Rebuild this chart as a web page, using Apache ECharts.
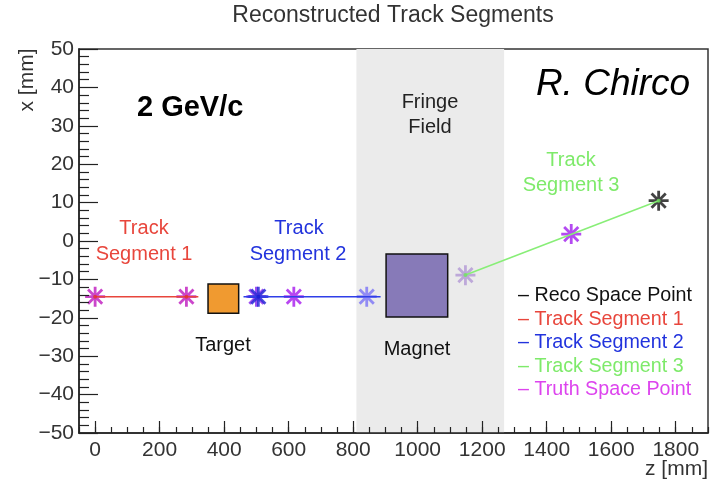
<!DOCTYPE html>
<html><head><meta charset="utf-8">
<script src="https://cdn.jsdelivr.net/npm/echarts@6/dist/echarts.min.js"></script>
<style>html,body{margin:0;padding:0;background:#fff}#c{width:718px;height:483px}</style>
</head><body><div id="c"></div>
<script>
// ---- data ----
const zTicks = [0, 200, 400, 600, 800, 1000, 1200, 1400, 1600, 1800];
const truthZ = [0, 283, 500, 616, 842, 1148, 1476];
const truthX = [-14.5, -14.5, -14.5, -14.5, -14.5, -8.9, 1.8];
const recoZ = [506, 1747];
const recoX = [-14.5, 10.5];
const seg1Z = [0, 320], seg1X = [-14.5, -14.5];
const seg2Z = [460, 885], seg2X = [-14.5, -14.5];
const seg3Z = [1148, 1747], seg3X = [-8.85, 10.5];
const seg1HitZ = [0, 283], seg1HitX = [-14.5, -14.5];
const seg2HitZ = [506], seg2HitX = [-14.5];
const seg3HitZ = [1148, 1747], seg3HitX = [-8.85, 10.5];
const fringeZ = [810, 1268];
const targetZ = [350, 445], targetX = [-18.8, -11.2];
const magnetZ = [902, 1093], magnetX = [-19.8, -3.4];

// ---- styles ----
const truthColors = ['#c83cc8', '#c83cc8', '#9a48f0', '#b43cf0', '#8c86f4', '#baa4d8', '#b040f0'];
const recoColors = ['#2a2ad6', '#222222'];
const FONT = "'Liberation Sans', Arial, Helvetica, sans-serif";
const STAR = 'path://M-50,-7L50,-7L50,7L-50,7Z M-7,-50L7,-50L7,50L-7,50Z M-40.35,-30.45L-30.45,-40.35L40.35,30.45L30.45,40.35Z M-30.45,40.35L-40.35,30.45L30.45,-40.35L40.35,-30.45Z';
const zip = (a, b) => a.map((v, i) => [v, b[i]]);
const fmt = v => String(v).replace('-', '\u2212');

const chart = echarts.init(document.getElementById('c'), null, {renderer: 'canvas'});

function txt(text, x, y, size, color, extra) {
  return Object.assign({
    type: 'text', x: x, y: y, z: 100,
    style: Object.assign({
      text: text, fill: color, font: size + 'px ' + FONT,
      align: 'center', verticalAlign: 'middle',
      textAlign: 'center', textVerticalAlign: 'middle'
    }, (extra && extra.style) || {})
  }, (extra && extra.el) || {});
}

const legendItems = [
  ['– Reco Space Point', '#111111'],
  ['– Track Segment 1', '#e8463c'],
  ['– Track Segment 2', '#2233dd'],
  ['– Track Segment 3', '#7eea6a'],
  ['– Truth Space Point', '#dd44ee']
];

const graphics = [
  txt('Reconstructed Track Segments', 393, 16, 23, '#333'),
  txt('x [mm]', 27, 80, 21, '#333', {el: {rotation: Math.PI / 2}}),
  txt('z [mm]', 708, 469, 21, '#333', {style: {align: 'right', textAlign: 'right'}}),
  {type: 'text', x: 137, y: 108, z: 100, style: {text: '2 GeV/c', fill: '#000', font: 'bold 29px ' + FONT, align: 'left', textAlign: 'left', verticalAlign: 'middle', textVerticalAlign: 'middle'}},
  {type: 'text', x: 613, y: 85, z: 100, style: {text: 'R. Chirco', fill: '#000', font: 'italic 37px ' + FONT, align: 'center', textAlign: 'center', verticalAlign: 'middle', textVerticalAlign: 'middle'}},
  txt('Fringe', 430, 102, 20, '#222'),
  txt('Field', 430, 127, 20, '#222'),
  txt('Track', 571, 160, 20, '#7eea6a'),
  txt('Segment 3', 571, 185, 20, '#7eea6a'),
  txt('Track', 144, 228, 20, '#e8463c'),
  txt('Segment 1', 144, 254, 20, '#e8463c'),
  txt('Track', 299, 228, 20, '#2233dd'),
  txt('Segment 2', 298, 254, 20, '#2233dd'),
  txt('Target', 223, 345, 20, '#111'),
  txt('Magnet', 417, 349, 20, '#111')
];
legendItems.forEach((it, i) => {
  graphics.push({type: 'text', x: 518, y: 296 + i * 23.4, z: 100,
    style: {text: it[0], fill: it[1], font: '19.7px ' + FONT, align: 'left', textAlign: 'left', verticalAlign: 'middle', textVerticalAlign: 'middle'}});
});

const axisCommon = {
  min: -50, max: 1900, type: 'value', position: 'bottom', z: 10,
  splitLine: {show: false}
};

chart.setOption({
  animation: false,
  backgroundColor: '#fff',
  grid: {left: 79, right: 10, top: 49, bottom: 50, show: true, borderColor: '#333', borderWidth: 1.5, backgroundColor: 'transparent'},
  xAxis: [
    Object.assign({}, axisCommon, {
      interval: 50,
      axisLine: {show: true, onZero: false, lineStyle: {color: '#222', width: 1.5}},
      axisTick: {show: true, inside: true, length: 6, lineStyle: {color: '#222', width: 1.2}},
      axisLabel: {show: false}
    }),
    Object.assign({}, axisCommon, {
      axisLine: {show: false, onZero: false},
      axisTick: {show: true, inside: true, length: 12, customValues: zTicks, lineStyle: {color: '#222', width: 1.2}},
      axisLabel: {show: true, customValues: zTicks, formatter: fmt, margin: 7, fontSize: 21, color: '#333', fontFamily: FONT}
    })
  ],
  yAxis: {
    type: 'value', min: -50, max: 50, interval: 10, z: 10,
    splitLine: {show: false},
    axisLine: {show: true, onZero: false, lineStyle: {color: '#222', width: 1.5}},
    axisTick: {show: true, inside: true, length: 19, lineStyle: {color: '#222', width: 1.2}},
    minorTick: {show: true, splitNumber: 5, length: 10, lineStyle: {color: '#222', width: 1.2}},
    axisLabel: {margin: 5, fontSize: 21, color: '#333', fontFamily: FONT, formatter: fmt}
  },
  graphic: graphics,
  series: [
    {
      type: 'scatter', name: 'fringe', data: [], z: 1, silent: true,
      markArea: {silent: true, itemStyle: {color: '#ebebeb'},
        data: [[{xAxis: fringeZ[0]}, {xAxis: fringeZ[1]}]]}
    },
    {
      type: 'scatter', name: 'boxes', data: [], z: 3, silent: true,
      markArea: {silent: true,
        data: [
          [{xAxis: targetZ[0], yAxis: targetX[1], itemStyle: {color: '#f09a30', borderColor: '#111', borderWidth: 1.5}}, {xAxis: targetZ[1], yAxis: targetX[0]}],
          [{xAxis: magnetZ[0], yAxis: magnetX[1], itemStyle: {color: '#877ab8', borderColor: '#111', borderWidth: 1.5}}, {xAxis: magnetZ[1], yAxis: magnetX[0]}]
        ]}
    },
    {
      type: 'scatter', name: 'Truth Space Point', z: 4, symbol: STAR, symbolSize: 20,
      data: zip(truthZ, truthX),
      itemStyle: {color: p => truthColors[p.dataIndex], opacity: 0.95}
    },
    {
      type: 'scatter', name: 'Reco Space Point', z: 4, symbol: STAR, symbolSize: 20,
      data: zip(recoZ, recoX),
      itemStyle: {color: p => recoColors[p.dataIndex], opacity: 0.85}
    },
    {type: 'line', name: 'Track Segment 1', z: 5, showSymbol: false, data: zip(seg1Z, seg1X), lineStyle: {color: '#e8463c', width: 1.5}},
    {type: 'line', name: 'Track Segment 2', z: 5, showSymbol: false, data: zip(seg2Z, seg2X), lineStyle: {color: '#2f3fe8', width: 1.5}},
    {type: 'line', name: 'Track Segment 3', z: 5, showSymbol: false, data: zip(seg3Z, seg3X), lineStyle: {color: '#88ee77', width: 1.5}},
    {type: 'scatter', z: 6, symbolSize: 4, data: zip(seg1HitZ, seg1HitX), itemStyle: {color: '#e03030'}},
    {type: 'scatter', z: 6, symbolSize: 4, data: zip(seg2HitZ, seg2HitX), itemStyle: {color: '#1a1ad0'}},
    {type: 'scatter', z: 6, symbolSize: 4, data: zip(seg3HitZ, seg3HitX), itemStyle: {color: '#70e060'}}
  ]
});
</script></body></html>
